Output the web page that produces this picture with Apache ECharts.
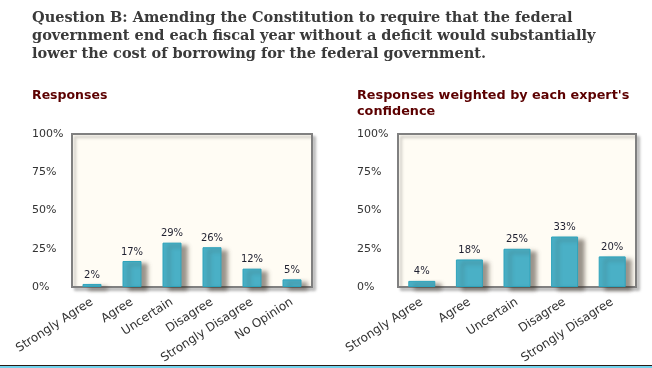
<!DOCTYPE html>
<html>
<head>
<meta charset="utf-8">
<script src="https://cdn.jsdelivr.net/npm/echarts@6/dist/echarts.min.js"></script>
<style>
html,body{margin:0;padding:0;background:#fff;}
#c{width:652px;height:368px;}
</style>
</head>
<body>
<div id="c"></div>
<script>
var titleLines = [
  "Question B: Amending the Constitution to require that the federal",
  "government end each fiscal year without a deficit would substantially",
  "lower the cost of borrowing for the federal government."
];
var leftTitle = "Responses";
var rightTitle = "Responses weighted by each expert's\nconfidence";
var leftCategories = ["Strongly Agree", "Agree", "Uncertain", "Disagree", "Strongly Disagree", "No Opinion"];
var leftValues = [2, 17, 29, 26, 12, 5];
var rightCategories = ["Strongly Agree", "Agree", "Uncertain", "Disagree", "Strongly Disagree"];
var rightValues = [4, 18, 25, 33, 20];
var yTicks = [0, 25, 50, 75, 100];

var chart = echarts.init(document.getElementById('c'), null, {renderer: 'canvas'});
var SANS = "'DejaVu Sans', Verdana, sans-serif";
var SERIF = "'DejaVu Serif', Georgia, serif";

function grid(left, width) {
  return {
    left: left, top: 134, width: width, height: 153,
    show: true, backgroundColor: '#fffcf4', borderColor: '#808080', borderWidth: 2,
    shadowColor: 'rgba(0,0,0,0.22)', shadowBlur: 3, shadowOffsetX: 3, shadowOffsetY: 3
  };
}
function xAxis(idx, cats) {
  return {
    type: 'category', gridIndex: idx, data: cats,
    axisLine: {show: false}, axisTick: {show: false},
    axisLabel: {rotate: 33, margin: 14, color: '#333', fontSize: 12, fontFamily: SANS, interval: 0}
  };
}
function yAxis(idx, margin) {
  return {
    type: 'value', gridIndex: idx, min: 0, max: 100, interval: 25,
    axisLine: {show: false}, axisTick: {show: false}, splitLine: {show: false},
    axisLabel: {formatter: function (v) { return yTicks.indexOf(v) >= 0 ? v + '%' : ''; },
      align: 'left', margin: margin, color: '#333', fontSize: 11, fontFamily: SANS}
  };
}
function series(idx, vals, bw) {
  return {
    type: 'bar', xAxisIndex: idx, yAxisIndex: idx, data: vals, barWidth: bw,
    itemStyle: {color: '#4ab0c6', borderColor: '#2ea3bb', borderWidth: 1,
      shadowColor: 'rgba(60,50,40,0.5)', shadowBlur: 4, shadowOffsetX: 6, shadowOffsetY: 3},
    label: {show: true, position: 'top', distance: 4, formatter: '{c}%', color: '#1f2030',
      fontSize: 10, fontFamily: SANS}
  };
}

chart.setOption({
  animation: false,
  grid: [grid(72, 240), grid(398, 238)],
  xAxis: [xAxis(0, leftCategories), xAxis(1, rightCategories)],
  yAxis: [yAxis(0, 40), yAxis(1, 41)],
  series: [series(0, leftValues, 19), series(1, rightValues, 27)],
  title: [
    {text: titleLines.join('\n'), left: 32, top: 9, padding: 0,
      textStyle: {fontFamily: SERIF, fontWeight: 'bold', fontSize: 14.5, lineHeight: 18, color: '#3a3a3a'}},
    {text: leftTitle, left: 32, top: 88, padding: 0,
      textStyle: {fontFamily: SANS, fontWeight: 'bold', fontSize: 12.5, lineHeight: 16, color: '#5c0000'}},
    {text: rightTitle, left: 357, top: 88, padding: 0,
      textStyle: {fontFamily: SANS, fontWeight: 'bold', fontSize: 12.8, lineHeight: 16, color: '#5c0000'}}
  ],
  graphic: [
    {type: 'rect', shape: {x: 0, y: 365, width: 652, height: 1}, style: {fill: '#2a1a14'}},
    {type: 'rect', shape: {x: 0, y: 366, width: 652, height: 2}, style: {fill: '#6fd3ee'}}
  ]
});
</script>
</body>
</html>
